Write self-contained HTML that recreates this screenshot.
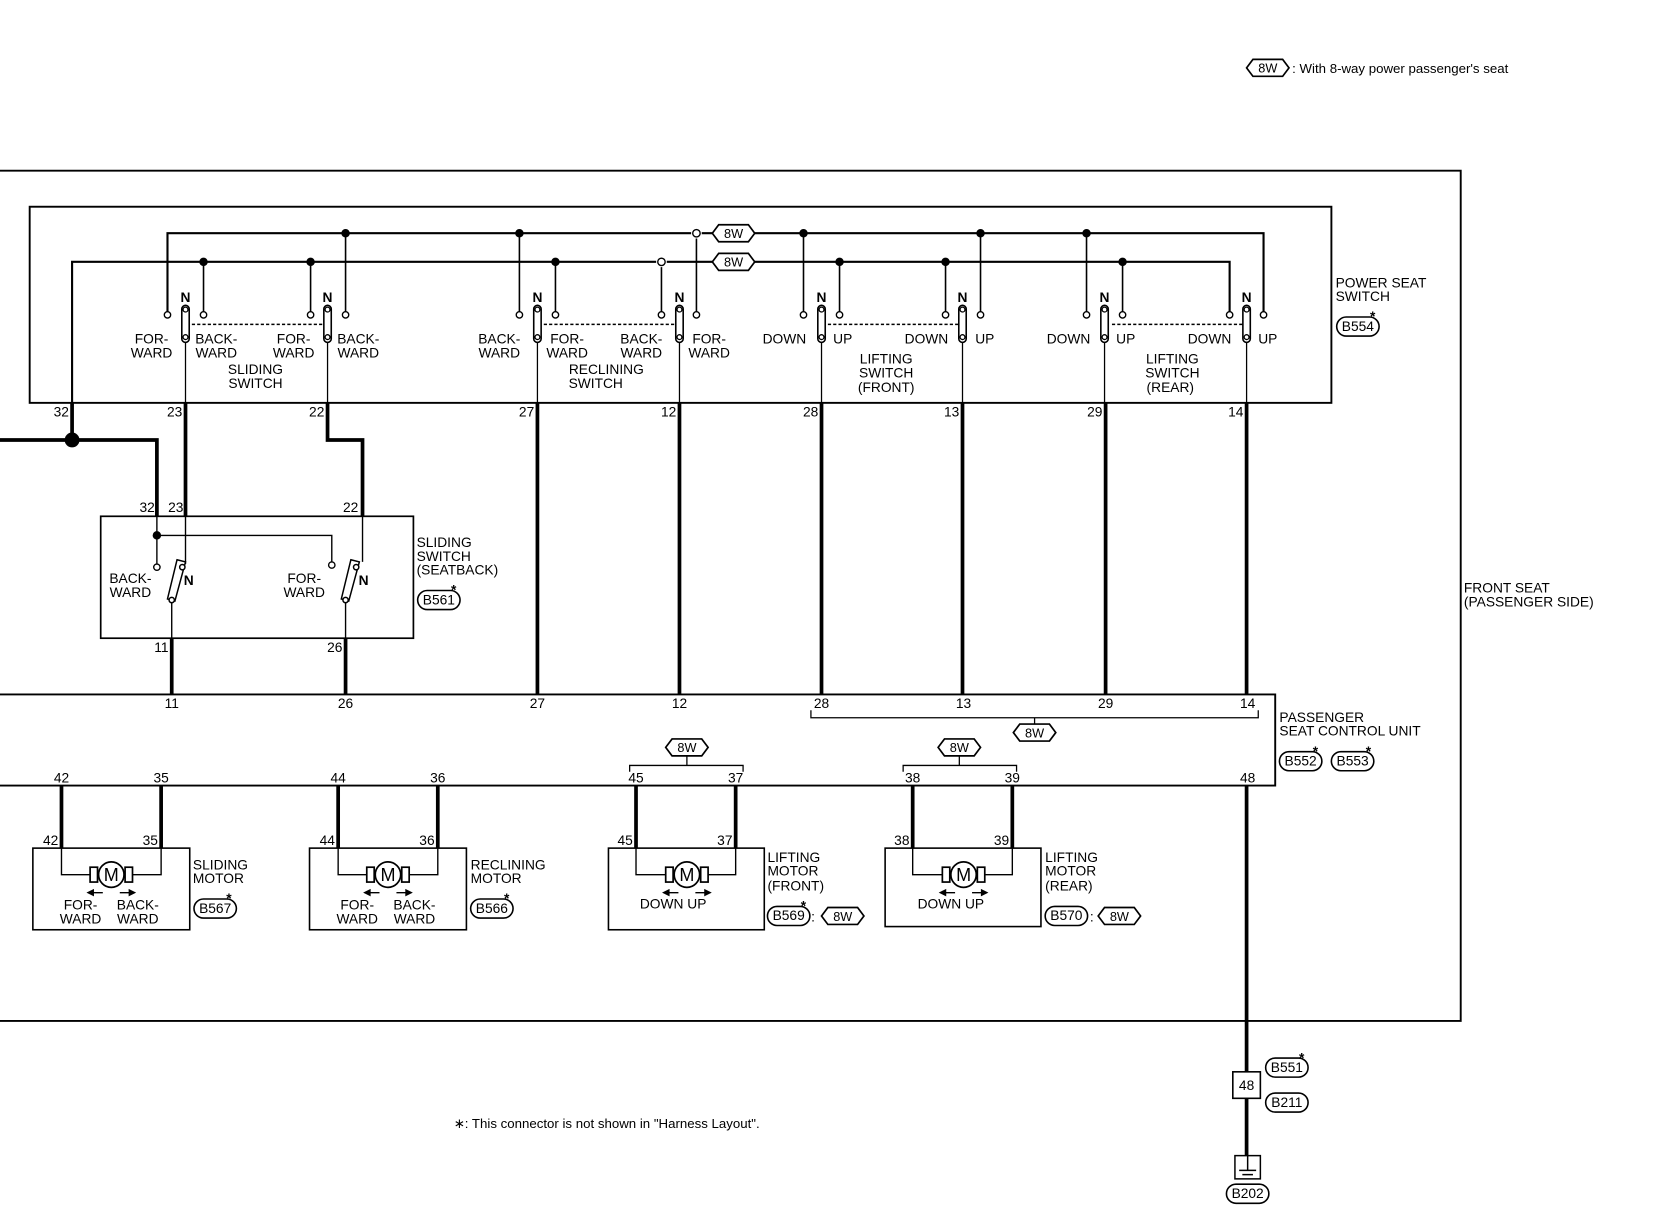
<!DOCTYPE html>
<html><head><meta charset="utf-8"><style>
html,body{margin:0;padding:0;background:#fff;}
svg{display:block;}
text{font-family:"Liberation Sans",sans-serif;font-size:13px;fill:#000;}
.c{text-anchor:middle;}
.r{text-anchor:end;}
</style></head><body>
<svg width="1660" height="1216" viewBox="0 0 1566 1147" preserveAspectRatio="none" xmlns="http://www.w3.org/2000/svg">
<defs>
<g id="hex"><path d="M-20,0 L-14,-8 L14,-8 L20,0 L14,8 L-14,8 Z" fill="#fff" stroke="#000" stroke-width="1.6"/><text x="0" y="4.5" class="c" style="font-size:12px">8W</text></g>
<g id="sw"><rect x="-3.5" y="-17" width="7" height="35" rx="3.5" fill="#fff" stroke="#000" stroke-width="1.5"/><circle cx="0" cy="-13" r="2.3" fill="#fff" stroke="#000" stroke-width="1.2"/><circle cx="0" cy="13" r="2.3" fill="#fff" stroke="#000" stroke-width="1.2"/></g>
<g id="mot"><circle cx="0" cy="0" r="12" fill="#fff" stroke="#000" stroke-width="1.6"/><rect x="-20" y="-7" width="7" height="14" fill="#fff" stroke="#000" stroke-width="1.6"/><rect x="13" y="-7" width="7" height="14" fill="#fff" stroke="#000" stroke-width="1.6"/><text x="0" y="6" class="c" style="font-size:17px">M</text>
<path d="M-8,17 L-22,17 M-22,17 l5,-2.5 v5 z M8,17 L22,17 M22,17 l-5,-2.5 v5 z" stroke="#000" stroke-width="1.3" fill="#000"/></g>
</defs>
<g fill="none" stroke="#000">
<path d="M0,161 H1378 V963 H0" stroke-width="1.8"/>
<rect x="28" y="195" width="1228" height="185" stroke-width="1.8"/>
<path d="M158,297 V220 H652 M662,220 H1192 V294" stroke-width="2"/>
<path d="M68,380 V247 H619 M629,247 H1160 V294" stroke-width="2"/>
<path d="M326,220 V294 M490,220 V294 M657,225 V294 M758,220 V294 M925,220 V294 M1025,220 V294" stroke-width="1.5"/>
<path d="M192,247 V294 M293,247 V294 M524,247 V294 M624,252 V294 M792,247 V294 M892,247 V294 M1059,247 V294" stroke-width="1.5"/>
<path d="M181,306 H305 M513,306 H637 M781,306 H905 M1049,306 H1173" stroke-width="1.4" stroke-dasharray="3,2"/>
<path d="M175,322 V380 M309,322 V380 M507,322 V380 M641,322 V380 M775,322 V380 M908,322 V380 M1042,322 V380 M1176,322 V380" stroke-width="1.2"/>
<path d="M68,380 V415 M0,415 H148 V487 M175,380 V487 M309,380 V415 H342 V487 M507,380 V655 M641,380 V655 M775,380 V655 M908,380 V655 M1043,380 V655 M1176,380 V655 M1176,741 V1011 M1176,1036 V1090 M162,602 V655 M326,602 V655" stroke-width="3.5"/>
<rect x="95" y="487" width="295" height="115" stroke-width="1.6"/>
<path d="M148,487 V532 M148,505 H313 V530 M175,487 V532 M342,487 V530 M162,568 V602 M326,568 V602" stroke-width="1.3"/>
<path d="M0,655 H1203 V741 H0" stroke-width="1.8"/>
<path d="M765,670 V677 H1187 V670 M976,677 V683" stroke-width="1.2"/>
<path d="M594,728 V722 H701 V728 M648,722 V713 M852,728 V722 H959 V728 M905,722 V713" stroke-width="1.2"/>
<path d="M58,741 V800 M152,741 V800 M319,741 V800 M413,741 V800 M600,741 V800 M694,741 V800 M861,741 V800 M955,741 V800" stroke-width="3.5"/>
<path d="M58,800 V825 H152 V800 M319,800 V825 H413 V800 M600,800 V825 H694 V800 M861,800 V825 H955 V800" stroke-width="1.3"/>
<rect x="31" y="800" width="148" height="77" stroke-width="1.5"/>
<rect x="292" y="800" width="148" height="77" stroke-width="1.5"/>
<rect x="574" y="800" width="147" height="77" stroke-width="1.5"/>
<rect x="835" y="800" width="147" height="74" stroke-width="1.5"/>
<rect x="1163" y="1011" width="26" height="25" stroke-width="1.5"/>
<path d="M1165,1090 H1189 V1112 H1165 Z M1169,1104 H1185 M1172,1108 H1182 M1177,1090 V1104" stroke-width="1.4"/>
</g>
<g fill="#000">
<circle cx="326" cy="220" r="4"/><circle cx="490" cy="220" r="4"/><circle cx="758" cy="220" r="4"/><circle cx="925" cy="220" r="4"/><circle cx="1025" cy="220" r="4"/>
<circle cx="192" cy="247" r="4"/><circle cx="293" cy="247" r="4"/><circle cx="524" cy="247" r="4"/><circle cx="792" cy="247" r="4"/><circle cx="892" cy="247" r="4"/><circle cx="1059" cy="247" r="4"/>
<circle cx="68" cy="415" r="7"/><circle cx="148" cy="505" r="4"/>
</g>
<g fill="#fff" stroke="#000" stroke-width="1.3">
<circle cx="657" cy="220" r="3.5"/><circle cx="624" cy="247" r="3.5"/>
<circle cx="158" cy="297" r="3"/><circle cx="192" cy="297" r="3"/><circle cx="293" cy="297" r="3"/><circle cx="326" cy="297" r="3"/>
<circle cx="490" cy="297" r="3"/><circle cx="524" cy="297" r="3"/><circle cx="624" cy="297" r="3"/><circle cx="657" cy="297" r="3"/>
<circle cx="758" cy="297" r="3"/><circle cx="792" cy="297" r="3"/><circle cx="892" cy="297" r="3"/><circle cx="925" cy="297" r="3"/>
<circle cx="1025" cy="297" r="3"/><circle cx="1059" cy="297" r="3"/><circle cx="1160" cy="297" r="3"/><circle cx="1192" cy="297" r="3"/>
<circle cx="148" cy="535" r="3"/><circle cx="313" cy="533" r="3"/>
</g>
<use href="#sw" x="175" y="305"/><use href="#sw" x="309" y="305"/><use href="#sw" x="507" y="305"/><use href="#sw" x="641" y="305"/>
<use href="#sw" x="775" y="305"/><use href="#sw" x="908" y="305"/><use href="#sw" x="1042" y="305"/><use href="#sw" x="1176" y="305"/>
<g stroke="#000" stroke-width="1.4" fill="#fff">
<path d="M167,528 L175,530 L165,567 L158,565 Z"/><circle cx="172" cy="535" r="2.5"/><circle cx="162" cy="566" r="2.5"/>
<path d="M331,528 L339,530 L329,567 L322,565 Z"/><circle cx="336" cy="535" r="2.5"/><circle cx="326" cy="566" r="2.5"/>
</g>
<use href="#hex" x="1196" y="64"/>
<use href="#hex" x="692" y="220"/><use href="#hex" x="692" y="247"/>
<use href="#hex" x="976" y="691"/><use href="#hex" x="648" y="705"/><use href="#hex" x="905" y="705"/>
<use href="#hex" x="795" y="864"/><use href="#hex" x="1056" y="864"/>
<use href="#mot" x="105" y="825"/><use href="#mot" x="366" y="825"/><use href="#mot" x="648" y="825"/><use href="#mot" x="909" y="825"/>
<g fill="none" stroke="#000" stroke-width="1.5">
<rect x="1261" y="299" width="40" height="18" rx="9"/>
<rect x="394" y="557" width="40" height="18" rx="9"/>
<rect x="1207" y="709" width="40" height="18" rx="9"/><rect x="1256" y="709" width="40" height="18" rx="9"/>
<rect x="183" y="848" width="40" height="18" rx="9"/><rect x="444" y="848" width="40" height="18" rx="9"/>
<rect x="724" y="855" width="40" height="18" rx="9"/><rect x="986" y="855" width="40" height="18" rx="9"/>
<rect x="1194" y="998" width="40" height="18" rx="9"/><rect x="1194" y="1031" width="40" height="18" rx="9"/>
<rect x="1157" y="1117" width="40" height="18" rx="9"/>
</g>
<g style="font-size:12px">
<text x="1281" y="312" class="c">B554</text><text x="414" y="570" class="c">B561</text>
<text x="1227" y="722" class="c">B552</text><text x="1276" y="722" class="c">B553</text>
<text x="203" y="861" class="c">B567</text><text x="464" y="861" class="c">B566</text>
<text x="744" y="868" class="c">B569</text><text x="1006" y="868" class="c">B570</text>
<text x="1214" y="1011" class="c">B551</text><text x="1214" y="1044" class="c">B211</text><text x="1177" y="1130" class="c">B202</text>
</g>
<g style="font-size:18px;font-weight:bold">
<text x="1295" y="303" class="c">*</text><text x="428" y="561" class="c">*</text>
<text x="1241" y="713" class="c">*</text><text x="1291" y="713" class="c">*</text>
<text x="216" y="852" class="c">*</text><text x="478" y="852" class="c">*</text><text x="758" y="859" class="c">*</text>
<text x="1228" y="1002" class="c">*</text>
</g>
<text x="767" y="869" class="c">:</text><text x="1030" y="869" class="c">:</text>
<text x="1219" y="69" style="font-size:12.5px">: With 8-way power passenger's seat</text>
<g style="font-weight:bold;font-size:12px">
<text x="175" y="285" class="c">N</text><text x="309" y="285" class="c">N</text><text x="507" y="285" class="c">N</text><text x="641" y="285" class="c">N</text>
<text x="775" y="285" class="c">N</text><text x="908" y="285" class="c">N</text><text x="1042" y="285" class="c">N</text><text x="1176" y="285" class="c">N</text>
<text x="178" y="552" class="c">N</text><text x="343" y="552" class="c">N</text>
</g>
<g class="c">
<text x="143" y="324" class="c">FOR-</text><text x="143" y="337" class="c">WARD</text>
<text x="204" y="324" class="c">BACK-</text><text x="204" y="337" class="c">WARD</text>
<text x="277" y="324" class="c">FOR-</text><text x="277" y="337" class="c">WARD</text>
<text x="338" y="324" class="c">BACK-</text><text x="338" y="337" class="c">WARD</text>
<text x="241" y="353" class="c">SLIDING</text><text x="241" y="366" class="c">SWITCH</text>
<text x="471" y="324" class="c">BACK-</text><text x="471" y="337" class="c">WARD</text>
<text x="535" y="324" class="c">FOR-</text><text x="535" y="337" class="c">WARD</text>
<text x="605" y="324" class="c">BACK-</text><text x="605" y="337" class="c">WARD</text>
<text x="669" y="324" class="c">FOR-</text><text x="669" y="337" class="c">WARD</text>
<text x="572" y="353" class="c">RECLINING</text><text x="562" y="366" class="c">SWITCH</text>
<text x="740" y="324" class="c">DOWN</text><text x="795" y="324" class="c">UP</text>
<text x="874" y="324" class="c">DOWN</text><text x="929" y="324" class="c">UP</text>
<text x="836" y="343" class="c">LIFTING</text><text x="836" y="356" class="c">SWITCH</text><text x="836" y="370" class="c">(FRONT)</text>
<text x="1008" y="324" class="c">DOWN</text><text x="1062" y="324" class="c">UP</text>
<text x="1141" y="324" class="c">DOWN</text><text x="1196" y="324" class="c">UP</text>
<text x="1106" y="343" class="c">LIFTING</text><text x="1106" y="356" class="c">SWITCH</text><text x="1104" y="370" class="c">(REAR)</text>
<text x="123" y="550" class="c">BACK-</text><text x="123" y="563" class="c">WARD</text>
<text x="287" y="550" class="c">FOR-</text><text x="287" y="563" class="c">WARD</text>
<text x="76" y="858" class="c">FOR-</text><text x="76" y="871" class="c">WARD</text>
<text x="130" y="858" class="c">BACK-</text><text x="130" y="871" class="c">WARD</text>
<text x="337" y="858" class="c">FOR-</text><text x="337" y="871" class="c">WARD</text>
<text x="391" y="858" class="c">BACK-</text><text x="391" y="871" class="c">WARD</text>
<text x="635" y="857" class="c">DOWN  UP</text><text x="897" y="857" class="c">DOWN  UP</text>
</g>
<text x="1260" y="271">POWER SEAT</text><text x="1260" y="284">SWITCH</text>
<text x="393" y="516">SLIDING</text><text x="393" y="529">SWITCH</text><text x="393" y="542">(SEATBACK)</text>
<text x="1381" y="559">FRONT SEAT</text><text x="1381" y="572">(PASSENGER SIDE)</text>
<text x="1207" y="681">PASSENGER</text><text x="1207" y="694">SEAT CONTROL UNIT</text>
<text x="182" y="820">SLIDING</text><text x="182" y="833">MOTOR</text>
<text x="444" y="820">RECLINING</text><text x="444" y="833">MOTOR</text>
<text x="724" y="813">LIFTING</text><text x="724" y="826">MOTOR</text><text x="724" y="840">(FRONT)</text>
<text x="986" y="813">LIFTING</text><text x="986" y="826">MOTOR</text><text x="986" y="840">(REAR)</text>
<text x="428" y="1064" style="font-size:12.5px">∗: This connector is not shown in "Harness Layout".</text>
<g style="font-size:12.5px">
<text x="65" y="393" class="r">32</text><text x="172" y="393" class="r">23</text><text x="306" y="393" class="r">22</text>
<text x="504" y="393" class="r">27</text><text x="638" y="393" class="r">12</text><text x="772" y="393" class="r">28</text>
<text x="905" y="393" class="r">13</text><text x="1040" y="393" class="r">29</text><text x="1173" y="393" class="r">14</text>
<text x="146" y="483" class="r">32</text><text x="173" y="483" class="r">23</text><text x="338" y="483" class="r">22</text>
<text x="159" y="615" class="r">11</text><text x="323" y="615" class="r">26</text>
<text x="162" y="668" class="c">11</text><text x="326" y="668" class="c">26</text><text x="507" y="668" class="c">27</text><text x="641" y="668" class="c">12</text>
<text x="775" y="668" class="c">28</text><text x="909" y="668" class="c">13</text><text x="1043" y="668" class="c">29</text><text x="1177" y="668" class="c">14</text>
<text x="58" y="738" class="c">42</text><text x="152" y="738" class="c">35</text><text x="319" y="738" class="c">44</text><text x="413" y="738" class="c">36</text>
<text x="600" y="738" class="c">45</text><text x="694" y="738" class="c">37</text><text x="861" y="738" class="c">38</text><text x="955" y="738" class="c">39</text><text x="1177" y="738" class="c">48</text>
<text x="55" y="797" class="r">42</text><text x="149" y="797" class="r">35</text><text x="316" y="797" class="r">44</text><text x="410" y="797" class="r">36</text>
<text x="597" y="797" class="r">45</text><text x="691" y="797" class="r">37</text><text x="858" y="797" class="r">38</text><text x="952" y="797" class="r">39</text>
<text x="1176" y="1028" class="c">48</text>
</g>
</svg>
</body></html>
